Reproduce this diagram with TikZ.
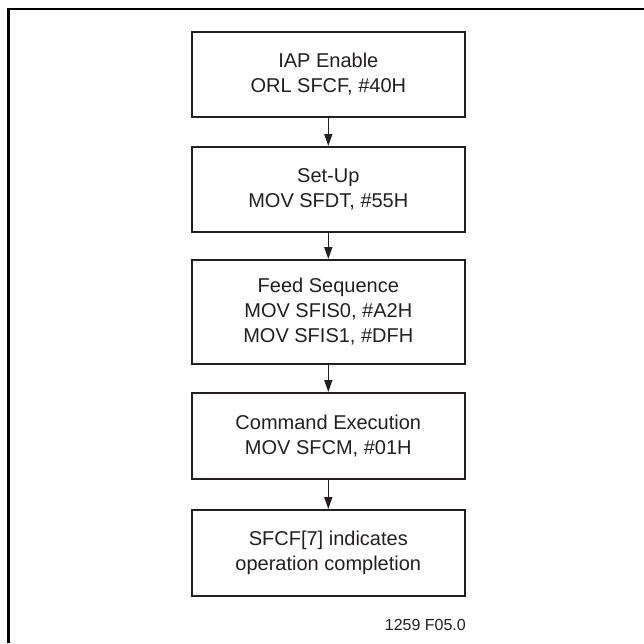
\documentclass[tikz,border=0pt]{standalone}
\usepackage{fontspec}
\setmainfont{Liberation Sans}
\usetikzlibrary{arrows.meta}
\definecolor{ink}{HTML}{231F20}
\begin{document}
\begin{tikzpicture}[x=1pt,y=-1pt,
  stepbox/.style={draw=ink, line width=2pt, minimum width=273pt, inner sep=0pt,
    align=center, text=ink, font=\fontsize{20}{25}\selectfont},
  flow/.style={draw=ink, line width=1.5pt, -{Triangle[length=12pt,width=8pt]}}]
\useasboundingbox (0,0) rectangle (644,643);
\draw[line width=2.6pt, black] (644,9) -- (8.7,9) -- (8.7,643);
\node[stepbox, minimum height=85pt] (b1) at (328.3,74) {IAP Enable\\ORL SFCF, \#40H};
\node[stepbox, minimum height=85pt] (b2) at (328.3,189.5) {Set-Up\\MOV SFDT, \#55H};
\node[stepbox, minimum height=104pt] (b3) at (328.3,312) {Feed Sequence\\MOV SFIS0, \#A2H\\MOV SFIS1, \#DFH};
\node[stepbox, minimum height=86pt] (b4) at (328.3,436) {Command Execution\\MOV SFCM, \#01H};
\node[stepbox, minimum height=86pt] (b5) at (328.3,553) {SFCF[7] indicates\\operation completion};
\draw[flow] (b1) -- (b2);
\draw[flow] (b2) -- (b3);
\draw[flow] (b3) -- (b4);
\draw[flow] (b4) -- (b5);
\node[anchor=east, inner sep=0pt, text=ink, font=\fontsize{16}{19}\selectfont] (fig) at (466,625) {1259 F05.0};
\end{tikzpicture}
\end{document}
